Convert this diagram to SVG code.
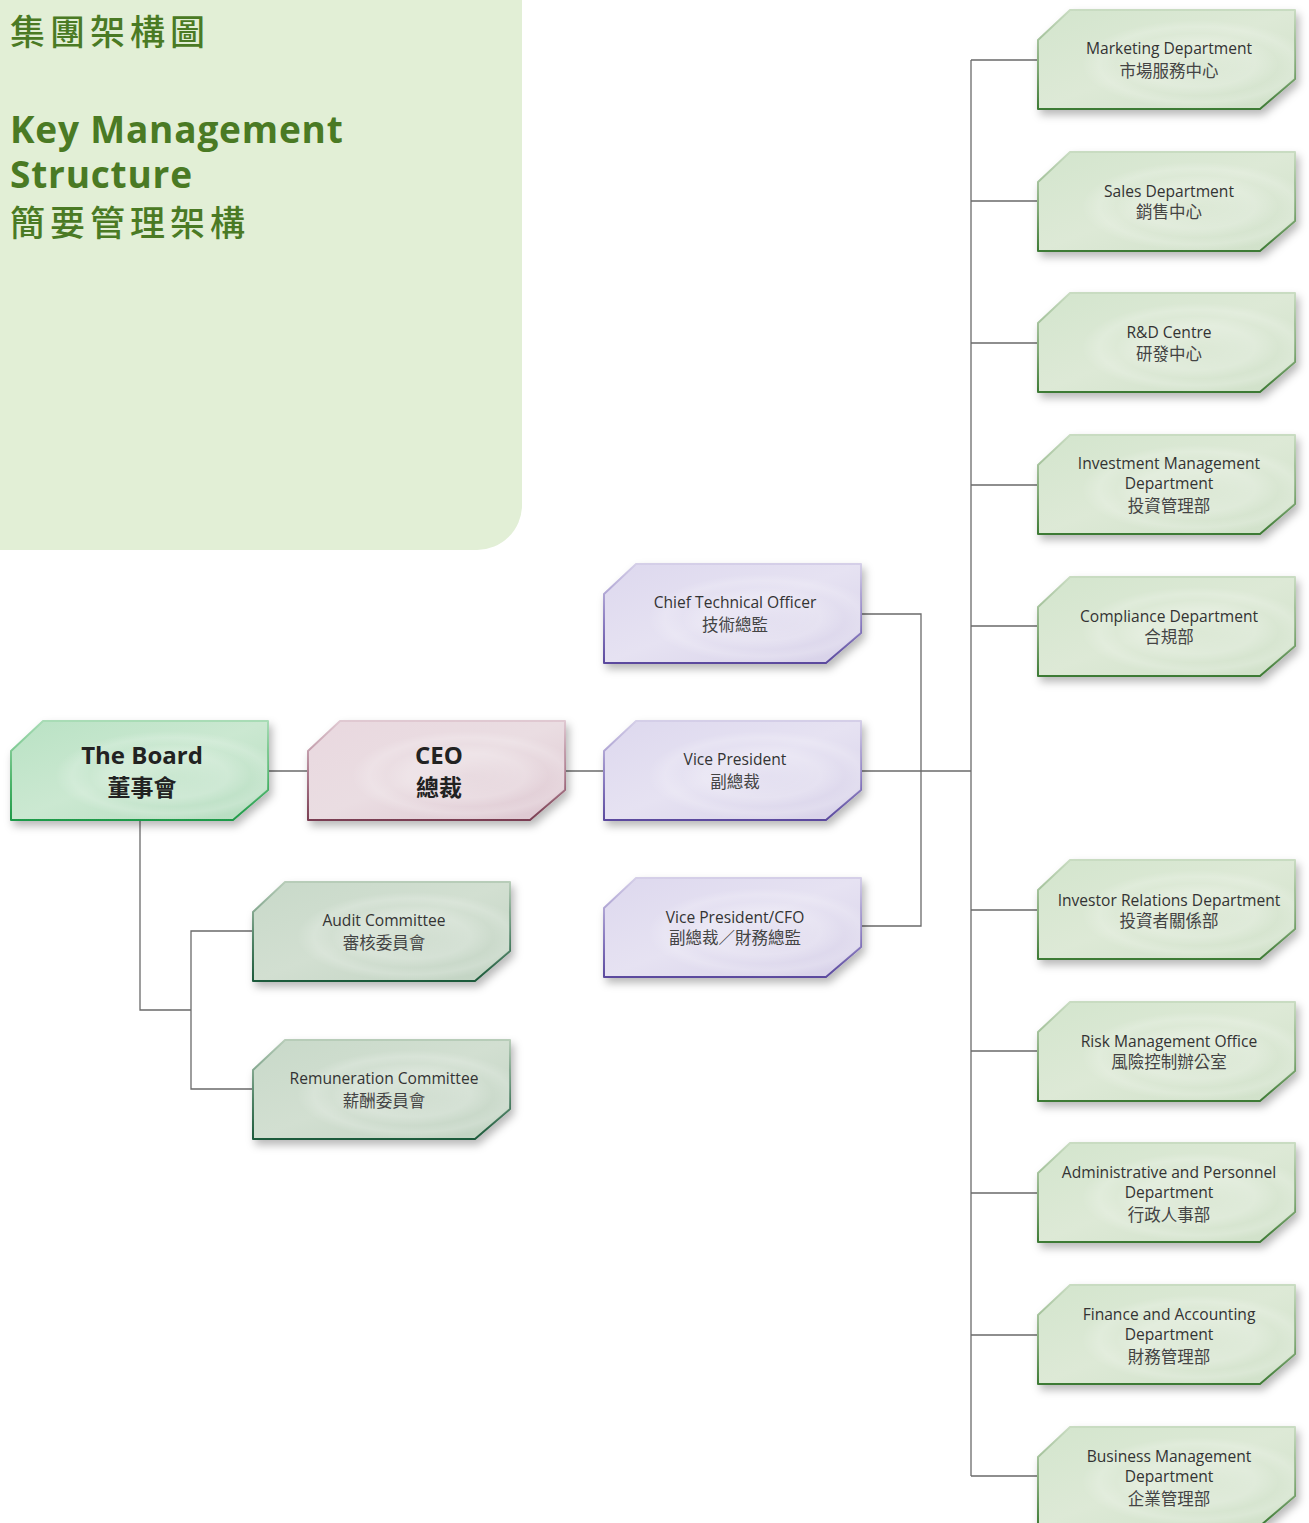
<svg xmlns="http://www.w3.org/2000/svg" xmlns:xlink="http://www.w3.org/1999/xlink" width="1309" height="1523" viewBox="0 0 1309 1523">
<style>
  text { stroke: none; }
  .en { font-family: "Open Sans", "Noto Sans", "Liberation Sans", sans-serif; font-size: 15.6px; fill: #333; text-anchor: middle; }
  .zh { font-family: "Noto Sans CJK TC", "Noto Sans CJK SC", sans-serif; font-size: 16.5px; fill: #444; text-anchor: middle; }
  .ben { font-family: "Open Sans", "Noto Sans", "Liberation Sans", sans-serif; font-size: 24px; font-weight: bold; fill: #222; text-anchor: middle; }
  .bzh { font-family: "Noto Sans CJK TC", "Noto Sans CJK SC", sans-serif; font-size: 23px; font-weight: bold; fill: #222; text-anchor: middle; }
  .ttl { font-family: "Open Sans", "Noto Sans", "Liberation Sans", sans-serif; font-size: 37px; font-weight: bold; fill: #4a7a24; letter-spacing: 0.8px; }
  .tzh { font-family: "Noto Sans CJK TC", "Noto Sans CJK SC", sans-serif; font-size: 35px; font-weight: 500; fill: #4a7a24; letter-spacing: 5px; }
  .conn { fill: none; stroke: #6a6a6a; stroke-width: 1.3; }
  .dept { fill: url(#gDept); stroke: url(#sDept); }
  .board { fill: url(#gBoard); stroke: url(#sBoard); }
  .ceo { fill: url(#gCeo); stroke: url(#sCeo); }
  .exec { fill: url(#gExec); stroke: url(#sExec); }
  .comm { fill: url(#gComm); stroke: url(#sComm); }
  use.s { stroke-width: 2; stroke-linejoin: round; filter: url(#shadow); }
  use.h { fill: url(#gHi); stroke: none; }
</style>
<defs>
  <path id="shape" d="M32,0 H257 V69 L222,99 H0 V30 Z"/>
  <filter id="shadow" x="-10%" y="-10%" width="130%" height="140%">
    <feDropShadow dx="3" dy="5" stdDeviation="4" flood-color="#000" flood-opacity="0.28"/>
  </filter>
  <radialGradient id="gHi" cx="0.62" cy="0.55" r="0.45">
    <stop offset="0" stop-color="#fff" stop-opacity="0.05"/>
    <stop offset="0.5" stop-color="#fff" stop-opacity="0.22"/>
    <stop offset="0.7" stop-color="#fff" stop-opacity="0.05"/>
    <stop offset="0.85" stop-color="#fff" stop-opacity="0.18"/>
    <stop offset="1" stop-color="#fff" stop-opacity="0"/>
  </radialGradient>
  <linearGradient id="gDept" x1="0" y1="0" x2="1" y2="1">
    <stop offset="0" stop-color="#d3e5cd"/>
    <stop offset="0.5" stop-color="#dde9d6"/>
    <stop offset="1" stop-color="#cfe0c8"/>
  </linearGradient>
  <linearGradient id="sDept" x1="0" y1="0" x2="0" y2="1">
    <stop offset="0" stop-color="#c9dcc2"/>
    <stop offset="0.6" stop-color="#7fa874"/>
    <stop offset="1" stop-color="#3d7a34"/>
  </linearGradient>
  <linearGradient id="gBoard" x1="0" y1="0" x2="1" y2="1">
    <stop offset="0" stop-color="#b9e2c4"/>
    <stop offset="0.5" stop-color="#cbe8d1"/>
    <stop offset="1" stop-color="#b5dcbf"/>
  </linearGradient>
  <linearGradient id="sBoard" x1="0" y1="0" x2="0" y2="1">
    <stop offset="0" stop-color="#a9dcb6"/>
    <stop offset="0.6" stop-color="#4fb56c"/>
    <stop offset="1" stop-color="#1f9a48"/>
  </linearGradient>
  <linearGradient id="gCeo" x1="0" y1="0" x2="1" y2="1">
    <stop offset="0" stop-color="#e9d8df"/>
    <stop offset="0.5" stop-color="#eadde2"/>
    <stop offset="1" stop-color="#dcc5cf"/>
  </linearGradient>
  <linearGradient id="sCeo" x1="0" y1="0" x2="0" y2="1">
    <stop offset="0" stop-color="#e0c9d2"/>
    <stop offset="0.6" stop-color="#a67386"/>
    <stop offset="1" stop-color="#7a3e52"/>
  </linearGradient>
  <linearGradient id="gExec" x1="0" y1="0" x2="1" y2="1">
    <stop offset="0" stop-color="#ddd8ee"/>
    <stop offset="0.5" stop-color="#e6e2f2"/>
    <stop offset="1" stop-color="#d6d0e8"/>
  </linearGradient>
  <linearGradient id="sExec" x1="0" y1="0" x2="0" y2="1">
    <stop offset="0" stop-color="#d5cfe8"/>
    <stop offset="0.6" stop-color="#8a7cc0"/>
    <stop offset="1" stop-color="#5b4a9e"/>
  </linearGradient>
  <linearGradient id="gComm" x1="0" y1="0" x2="1" y2="1">
    <stop offset="0" stop-color="#c8d9c9"/>
    <stop offset="0.5" stop-color="#d2dfd1"/>
    <stop offset="1" stop-color="#c0d2c1"/>
  </linearGradient>
  <linearGradient id="sComm" x1="0" y1="0" x2="0" y2="1">
    <stop offset="0" stop-color="#b8cdb9"/>
    <stop offset="0.6" stop-color="#4f8265"/>
    <stop offset="1" stop-color="#1d5a3b"/>
  </linearGradient>
</defs>

<rect width="1309" height="1523" fill="#ffffff"/>

<g id="title">
  <path d="M0,0 H522 V505 A45,45 0 0 1 477,550 H0 Z" fill="#e2efd6"/>
  <text class="tzh" x="10" y="45">集團架構圖</text>
  <text class="ttl"><tspan x="10" y="143">Key Management</tspan><tspan x="10" y="188">Structure</tspan></text>
  <text class="tzh" x="10" y="236">簡要管理架構</text>
</g>

<g id="connectors">
  <path class="conn" d="M268,771 H308"/>
  <path class="conn" d="M564,771 H604"/>
  <path class="conn" d="M860,771 H971"/>
  <path class="conn" d="M860,614 H921 V926 H860"/>
  <path class="conn" d="M971,60 V1476"/>
  <path class="conn" d="M971,60 H1038 M971,201 H1038 M971,343 H1038 M971,485 H1038 M971,626 H1038 M971,910 H1038 M971,1051 H1038 M971,1193 H1038 M971,1335 H1038 M971,1476 H1038"/>
  <path class="conn" d="M140,820 V1010 H191"/>
  <path class="conn" d="M253,931 H191 V1089 H253"/>
</g>

<g id="board" transform="translate(11,721)">
  <use class="s board" href="#shape"/><use class="h" href="#shape"/>
  <text class="ben" x="131" y="43">The Board</text>
  <text class="bzh" x="131" y="75">董事會</text>
</g>
<g id="ceo" transform="translate(308,721)">
  <use class="s ceo" href="#shape"/><use class="h" href="#shape"/>
  <text class="ben" x="131" y="43">CEO</text>
  <text class="bzh" x="131" y="75">總裁</text>
</g>
<g id="cto" transform="translate(604,564)">
  <use class="s exec" href="#shape"/><use class="h" href="#shape"/>
  <text class="en" x="131" y="44">Chief Technical Officer</text>
  <text class="zh" x="131" y="67">技術總監</text>
</g>
<g id="vp" transform="translate(604,721)">
  <use class="s exec" href="#shape"/><use class="h" href="#shape"/>
  <text class="en" x="131" y="44">Vice President</text>
  <text class="zh" x="131" y="67">副總裁</text>
</g>
<g id="vpcfo" transform="translate(604,878)">
  <use class="s exec" href="#shape"/><use class="h" href="#shape"/>
  <text class="en" x="131" y="45">Vice President/CFO</text>
  <text class="zh" x="131" y="66">副總裁／財務總監</text>
</g>
<g id="audit" transform="translate(253,882)">
  <use class="s comm" href="#shape"/><use class="h" href="#shape"/>
  <text class="en" x="131" y="44">Audit Committee</text>
  <text class="zh" x="131" y="67">審核委員會</text>
</g>
<g id="remuneration" transform="translate(253,1040)">
  <use class="s comm" href="#shape"/><use class="h" href="#shape"/>
  <text class="en" x="131" y="44">Remuneration Committee</text>
  <text class="zh" x="131" y="67">薪酬委員會</text>
</g>

<g id="marketing" transform="translate(1038,10)">
  <use class="s dept" href="#shape"/><use class="h" href="#shape"/>
  <text class="en" x="131" y="44">Marketing Department</text>
  <text class="zh" x="131" y="67">市場服務中心</text>
</g>
<g id="sales" transform="translate(1038,152)">
  <use class="s dept" href="#shape"/><use class="h" href="#shape"/>
  <text class="en" x="131" y="45">Sales Department</text>
  <text class="zh" x="131" y="66">銷售中心</text>
</g>
<g id="rnd" transform="translate(1038,293)">
  <use class="s dept" href="#shape"/><use class="h" href="#shape"/>
  <text class="en" x="131" y="45">R&amp;D Centre</text>
  <text class="zh" x="131" y="67">研發中心</text>
</g>
<g id="investment" transform="translate(1038,435)">
  <use class="s dept" href="#shape"/><use class="h" href="#shape"/>
  <text class="en" x="131" y="34">Investment Management</text>
  <text class="en" x="131" y="54">Department</text>
  <text class="zh" x="131" y="77">投資管理部</text>
</g>
<g id="compliance" transform="translate(1038,577)">
  <use class="s dept" href="#shape"/><use class="h" href="#shape"/>
  <text class="en" x="131" y="45">Compliance Department</text>
  <text class="zh" x="131" y="66">合規部</text>
</g>
<g id="ir" transform="translate(1038,860)">
  <use class="s dept" href="#shape"/><use class="h" href="#shape"/>
  <text class="en" x="131" y="46">Investor Relations Department</text>
  <text class="zh" x="131" y="67">投資者關係部</text>
</g>
<g id="risk" transform="translate(1038,1002)">
  <use class="s dept" href="#shape"/><use class="h" href="#shape"/>
  <text class="en" x="131" y="45">Risk Management Office</text>
  <text class="zh" x="131" y="66">風險控制辦公室</text>
</g>
<g id="admin" transform="translate(1038,1143)">
  <use class="s dept" href="#shape"/><use class="h" href="#shape"/>
  <text class="en" x="131" y="35">Administrative and Personnel</text>
  <text class="en" x="131" y="55">Department</text>
  <text class="zh" x="131" y="78">行政人事部</text>
</g>
<g id="finance" transform="translate(1038,1285)">
  <use class="s dept" href="#shape"/><use class="h" href="#shape"/>
  <text class="en" x="131" y="35">Finance and Accounting</text>
  <text class="en" x="131" y="55">Department</text>
  <text class="zh" x="131" y="78">財務管理部</text>
</g>
<g id="business" transform="translate(1038,1427)">
  <use class="s dept" href="#shape"/><use class="h" href="#shape"/>
  <text class="en" x="131" y="35">Business Management</text>
  <text class="en" x="131" y="55">Department</text>
  <text class="zh" x="131" y="78">企業管理部</text>
</g>
</svg>
